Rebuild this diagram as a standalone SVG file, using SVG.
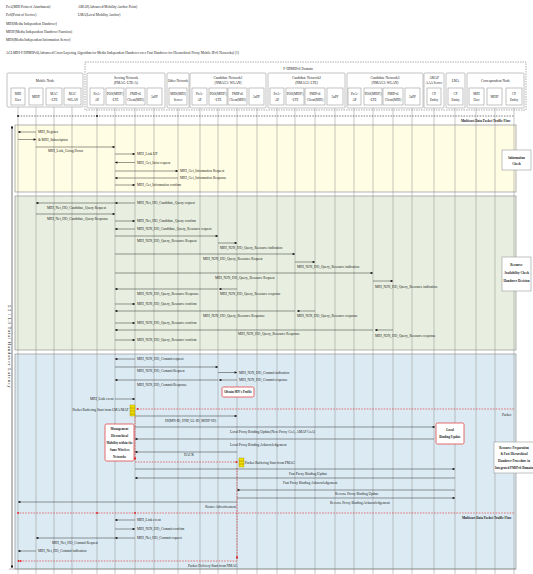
<svg xmlns="http://www.w3.org/2000/svg" width="533" height="574" viewBox="0 0 533 574">
<style>
text{font-family:"Liberation Serif","Times New Roman",serif;font-size:3.5px;fill:#1a1a1a}
.c{text-anchor:middle}
.e{text-anchor:end}
.h{font-size:3.3px}
.b{font-weight:bold;font-size:3.2px}
.bx{fill:#fff;stroke:#9a9a9a;stroke-width:0.6}
.rb{fill:#fff;stroke:#e04848;stroke-width:0.8}
.ll{stroke:#8e8e8e;stroke-width:0.5}
.m{stroke:#333;stroke-width:0.5;fill:none;marker-end:url(#a)}
.rd{stroke:#e02020;stroke-width:0.6;stroke-dasharray:1.6 1.2;fill:none}
.ra{marker-end:url(#r)}
.buf{fill:#f4e000;stroke:#9a8a00;stroke-width:0.4}
</style>
<defs>
<marker id="a" viewBox="0 0 6 6" refX="5.5" refY="3" markerWidth="3" markerHeight="2.6" markerUnits="userSpaceOnUse" orient="auto"><path d="M0,0L6,3L0,6z" fill="#111"/></marker>
<marker id="r" viewBox="0 0 6 6" refX="5.5" refY="3" markerWidth="3" markerHeight="2.6" markerUnits="userSpaceOnUse" orient="auto"><path d="M0,0L6,3L0,6z" fill="#e02020"/></marker>
<marker id="as" viewBox="0 0 6 6" refX="5.5" refY="3" markerWidth="3" markerHeight="2.6" markerUnits="userSpaceOnUse" orient="auto-start-reverse"><path d="M0,0L6,3L0,6z" fill="#111"/></marker>
</defs>
<rect width="533" height="574" fill="#fff"/>

<g id="legend">
<text x="6" y="8.2">PoA(MIH Point of Attachment)</text>
<text x="78" y="8.2">AMAP(Advanced Mobility Anchor Point)</text>
<text x="6" y="16.2">PoS(Point of Service)</text>
<text x="78" y="16.2">LMA(Local Mobility Anchor)</text>
<text x="6" y="24.6">MIH(Media Independent Handover)</text>
<text x="6" y="32.6">MIHF(Media Independent Handover Function)</text>
<text x="6" y="40.6">MIIS(Media Independent Information Server)</text>
<text x="6" y="54">ACLMIH-F/HPMIPv6(Advanced Cross-Layering Algorithm for Media Independent Handover over Fast Handover for Hierarchical Proxy Mobile IPv6 Networks) (1)</text>
</g>

<g id="bands">
<rect x="15" y="125" width="501" height="67" fill="#fffde3" stroke="#a0a0a0" stroke-width="0.8"/>
<rect x="15" y="196" width="501" height="154" fill="#e8efe0" stroke="#a0a0a0" stroke-width="0.8"/>
<rect x="15" y="354" width="501" height="215" fill="#dcebf3" stroke="#a0a0a0" stroke-width="0.8"/>
</g>

<g id="domain">
<rect x="85" y="62" width="441" height="48" fill="none" stroke="#777" stroke-width="0.6" stroke-dasharray="1.5 1"/>
<text class="c" x="298" y="69.5">F-HPMIPv6 Domain</text>
</g>

<g id="lifelines">
<path class="ll" d="M18,105V574M36,105V574M54,105V574M72,105V574M97,105V574M115,105V574M135,105V574M154,105V574M178,105V574M200,105V574M218,105V574M237,105V574M257,105V574M277,105V574M295,105V574M315,105V574M335,105V574M354,105V574M373,105V574M393,105V574M412,105V574M434,105V574M455,105V574M476,105V574M495,105V574M514,105V574"/>
</g>

<g id="mobile-node">
<rect class="bx" x="7" y="73" width="76" height="34" rx="1"/>
<text class="c" x="45" y="81.5">Mobile Node</text>
<rect class="bx" x="11" y="88" width="14" height="17"/><text class="c h" x="18" y="95">MIH</text><text class="c h" x="18" y="100.5">User</text>
<rect class="bx" x="29" y="88" width="14" height="17"/><text class="c h" x="36" y="98">MIHF</text>
<rect class="bx" x="46" y="88" width="16" height="17"/><text class="c h" x="54" y="95">MAC</text><text class="c h" x="54" y="100.5">-LTE</text>
<rect class="bx" x="64" y="88" width="17" height="17"/><text class="c h" x="72.5" y="95">MAC</text><text class="c h" x="72.5" y="100.5">-WLAN</text>
</g>

<g id="serving-network">
<rect class="bx" x="87" y="73" width="78" height="35" rx="1"/>
<text class="c" x="126" y="78.5">Serving Network</text><text class="c" x="126" y="84">(PMAG: LTE-A)</text>
<rect class="bx" x="90" y="88" width="14" height="17"/><text class="c h" x="97" y="95">PoA-</text><text class="c h" x="97" y="100.5">AP</text>
<rect class="bx" x="106" y="88" width="18" height="17"/><text class="c h" x="115" y="95">POS(MIHF)</text><text class="c h" x="115" y="100.5">-LTE</text>
<rect class="bx" x="126" y="88" width="19" height="17"/><text class="c h" x="135.5" y="95">PMIPv6</text><text class="c h" x="135.5" y="100.5">Client(MIH)</text>
<rect class="bx" x="147" y="88" width="15" height="17"/><text class="c h" x="154.5" y="98">3aPP</text>
</g>

<g id="other-network">
<rect class="bx" x="167" y="73" width="22" height="35" rx="1"/>
<text class="c h" x="178" y="81.5">Other Network</text>
<rect class="bx" x="169" y="88" width="18" height="17"/><text class="c h" x="178" y="95">MIIS(MIH)</text><text class="c h" x="178" y="100.5">Server</text>
</g>

<g id="candidate-network1">
<rect class="bx" x="190" y="73" width="76" height="35" rx="1"/>
<text class="c" x="228" y="78.5">Candidate Network1</text><text class="c" x="228" y="84">(NMAG1: WLAN)</text>
<rect class="bx" x="192" y="88" width="15" height="17"/><text class="c h" x="199.5" y="95">PoA-</text><text class="c h" x="199.5" y="100.5">AP</text>
<rect class="bx" x="209" y="88" width="18" height="17"/><text class="c h" x="218" y="95">POS(MIHF)</text><text class="c h" x="218" y="100.5">-LTE</text>
<rect class="bx" x="228" y="88" width="19" height="17"/><text class="c h" x="237.5" y="95">PMIPv6</text><text class="c h" x="237.5" y="100.5">Client(MIH)</text>
<rect class="bx" x="249" y="88" width="15" height="17"/><text class="c h" x="256.5" y="98">3aPP</text>
</g>

<g id="candidate-network2">
<rect class="bx" x="268" y="73" width="77" height="35" rx="1"/>
<text class="c" x="306.5" y="78.5">Candidate Network2</text><text class="c" x="306.5" y="84">(NMAG2: LTE)</text>
<rect class="bx" x="270" y="88" width="14" height="17"/><text class="c h" x="277" y="95">PoA-</text><text class="c h" x="277" y="100.5">AP</text>
<rect class="bx" x="286" y="88" width="18" height="17"/><text class="c h" x="295" y="95">POS(MIHF)</text><text class="c h" x="295" y="100.5">-LTE</text>
<rect class="bx" x="305" y="88" width="20" height="17"/><text class="c h" x="315" y="95">PMIPv6</text><text class="c h" x="315" y="100.5">Client(MIH)</text>
<rect class="bx" x="327" y="88" width="16" height="17"/><text class="c h" x="335" y="98">3aPP</text>
</g>

<g id="candidate-network3">
<rect class="bx" x="347" y="73" width="76" height="35" rx="1"/>
<text class="c" x="385" y="78.5">Candidate Network3</text><text class="c" x="385" y="84">(NMAG3: WLAN)</text>
<rect class="bx" x="348" y="88" width="13" height="17"/><text class="c h" x="354.5" y="95">PoA-</text><text class="c h" x="354.5" y="100.5">AP</text>
<rect class="bx" x="364" y="88" width="18" height="17"/><text class="c h" x="373" y="95">POS(MIHF)</text><text class="c h" x="373" y="100.5">-LTE</text>
<rect class="bx" x="383" y="88" width="20" height="17"/><text class="c h" x="393" y="95">PMIPv6</text><text class="c h" x="393" y="100.5">Client(MIH)</text>
<rect class="bx" x="405" y="88" width="15" height="17"/><text class="c h" x="412.5" y="98">3aPP</text>
</g>

<g id="amap">
<rect class="bx" x="424" y="73" width="20" height="35" rx="1"/>
<text class="c h" x="434" y="78.5">AMAP</text><text class="c h" x="434" y="84">AAA Server</text>
<rect class="bx" x="427" y="88" width="14" height="17"/><text class="c h" x="434" y="95">CP</text><text class="c h" x="434" y="100.5">Entity</text>
</g>

<g id="lma">
<rect class="bx" x="446" y="73" width="19" height="35" rx="1"/>
<text class="c h" x="455.5" y="81.5">LMA</text>
<rect class="bx" x="448" y="88" width="15" height="17"/><text class="c h" x="455.5" y="95">CP</text><text class="c h" x="455.5" y="100.5">Entity</text>
</g>

<g id="correspondent-node">
<rect class="bx" x="467" y="73" width="57" height="35" rx="1"/>
<text class="c" x="495.5" y="81.5">Correspondent Node</text>
<rect class="bx" x="469" y="88" width="15" height="17"/><text class="c h" x="476.5" y="95">MIH</text><text class="c h" x="476.5" y="100.5">User</text>
<rect class="bx" x="487" y="88" width="15" height="17"/><text class="c h" x="494.5" y="98">MIHF</text>
<rect class="bx" x="506" y="88" width="16" height="17"/><text class="c h" x="514" y="95">CP</text><text class="c h" x="514" y="100.5">Entity</text>
</g>

<g id="latency">
<line x1="12" y1="126" x2="12" y2="568" stroke="#222" stroke-width="0.6" marker-start="url(#as)" marker-end="url(#as)"/>
<line x1="9" y1="569" x2="516" y2="569" stroke="#888" stroke-width="0.6"/>
<text class="c" transform="translate(8.3,347) rotate(90)" style="font-size:4.6px;letter-spacing:0.8px">L2 / L3 Total Handover Latency</text>
</g>

<g id="connectors">
<!-- initial multicast flow -->
<line x1="18" y1="116" x2="514" y2="116" stroke="#222" stroke-width="0.6" stroke-dasharray="1.5 1.2"/>
<circle cx="18" cy="116" r="0.9" fill="#111"/><circle cx="97" cy="116" r="0.9" fill="#111"/>
<text class="b" x="461" y="122" style="font-size:3.3px">Multicast Data Packet Traffic Flow</text>

<!-- information check -->
<line class="m" x1="36" y1="132" x2="18" y2="132"/><text x="38" y="133.2">MIH_Register</text>
<line class="m" x1="18" y1="139.5" x2="36" y2="139.5"/><text x="38" y="140.7">&amp; MIH_Subscription</text>
<line class="m" x1="36" y1="147" x2="115" y2="147"/><text x="48" y="152">MIH_Link_Going Down</text>
<line class="m" x1="115" y1="154" x2="135" y2="154"/><text x="137" y="155.2">MIH_Link UP</text>
<line class="m" x1="135" y1="162.5" x2="115" y2="162.5"/><text x="137" y="163.7">MIH_Get_Infor request</text>
<line class="m" x1="115" y1="171" x2="178" y2="171"/><text x="180" y="172.2">MIH_Get_Information Request</text>
<line class="m" x1="178" y1="178" x2="115" y2="178"/><text x="180" y="179.2">MIH_Get_Information Response</text>
<line class="m" x1="115" y1="185" x2="135" y2="185"/><text x="137" y="186.2">MIH_Get_Information confirm</text>

<!-- resource availability check -->
<line class="m" x1="115" y1="203" x2="36" y2="203"/><text x="47" y="208.5">MIH_Net_HO_Candidate_Query Request</text>
<line class="m" x1="135" y1="203" x2="115" y2="203"/><text x="137" y="204.2">MIH_Net_HO_Candidate_Query request</text>
<line class="m" x1="36" y1="214" x2="115" y2="214"/><text x="47" y="219.5">MIH_Net_HO_Candidate_Query Response</text>
<line class="m" x1="115" y1="221" x2="135" y2="221"/><text x="137" y="222.2">MIH_Net_HO_Candidate_Query confirm</text>
<line class="m" x1="135" y1="229" x2="115" y2="229"/><text x="137" y="230.2">MIH_N2N_HO_Candidate_Query_Resource request</text>
<line class="m" x1="115" y1="236" x2="218" y2="236"/><text x="137" y="242">MIH_N2N_HO_Query_Resource Request</text>
<line class="m" x1="218" y1="243" x2="237" y2="243"/><text x="220" y="249">MIH_N2N_HO_Query_Resource indication</text>
<line class="m" x1="115" y1="254" x2="295" y2="254"/><text x="203" y="259.5">MIH_N2N_HO_Query_Resource Request</text>
<line class="m" x1="295" y1="262" x2="315" y2="262"/><text x="297" y="268">MIH_N2N_HO_Query_Resource indication</text>
<line class="m" x1="115" y1="273" x2="373" y2="273"/><text x="215" y="278.5">MIH_N2N_HO_Query_Resource Request</text>
<line class="m" x1="373" y1="281" x2="393" y2="281"/><text x="375" y="288">MIH_N2N_HO_Query_Resource indication</text>
<line class="m" x1="237" y1="289" x2="219" y2="289"/><text x="220" y="294.5">MIH_N2N_HO_Query_Resource response</text>
<line class="m" x1="218" y1="289" x2="115" y2="289"/><text x="137" y="294.5">MIH_N2N_HO_Query_Resource Response</text>
<line class="m" x1="115" y1="304" x2="135" y2="304"/><text x="137" y="305.2">MIH_N2N_HO_Query_Resource confirm</text>
<line class="m" x1="315" y1="311" x2="297" y2="311"/><text x="297" y="316.5">MIH_N2N_HO_Query_Resource response</text>
<line class="m" x1="295" y1="311" x2="115" y2="311"/><text x="203" y="316.5">MIH_N2N_HO_Query_Resource Response</text>
<line class="m" x1="115" y1="323" x2="135" y2="323"/><text x="137" y="324.2">MIH_N2N_HO_Query_Resource confirm</text>
<line class="m" x1="393" y1="330" x2="375" y2="330"/><text x="375" y="337">MIH_N2N_HO_Query_Resource response</text>
<line class="m" x1="373" y1="330" x2="115" y2="330"/><text x="238" y="334.5">MIH_N2N_HO_Query_Resource Response</text>
<line class="m" x1="115" y1="340" x2="135" y2="340"/><text x="137" y="341.2">MIH_N2N_HO_Query_Resource confirm</text>

<!-- handover preparation -->
<line class="m" x1="135" y1="359" x2="115" y2="359"/><text x="137" y="360.2">MIH_N2N_HO_Commit request</text>
<line class="m" x1="115" y1="367" x2="218" y2="367"/><text x="137" y="372">MIH_N2N_HO_Commit Request</text>
<line class="m" x1="218" y1="372.5" x2="237" y2="372.5"/><text x="239" y="373.7">MIH_N2N_HO_Commit indication</text>
<line class="m" x1="237" y1="380" x2="219" y2="380"/><text x="239" y="381.2">MIH_N2N_HO_Commit response</text>
<line class="m" x1="218" y1="380" x2="115" y2="380"/><text x="137" y="385.5">MIH_N2N_HO_Commit Response</text>
<line class="m" x1="115" y1="399" x2="135" y2="399"/><text class="e" x="113.5" y="400.2">MIH_Link event</text>
<line class="rd ra" x1="514" y1="409" x2="136" y2="409"/>
<text class="e" x="128.5" y="410.5">Packet Buffering Start from LMA/MAP</text>
<text x="502" y="415.5">Packet</text>
<line class="rd ra" x1="135" y1="417" x2="135" y2="460"/>
<line class="m" x1="135" y1="416" x2="237" y2="416"/><text x="165" y="421.5">HI(MN-ID, HNP, LL-ID, MIHF-ID)</text>
<line class="m" x1="135" y1="427" x2="435" y2="427"/><text x="230" y="433">Local Proxy Binding Update(New Proxy CoA, AMAP CoA)</text>
<line class="m" x1="434" y1="439" x2="135" y2="439"/><text x="230" y="446">Local Proxy Binding Acknowledgement</text>
<line class="m" x1="237" y1="452" x2="135" y2="452"/><text x="184" y="456">HACK</text>
<line class="rd ra" x1="135" y1="462" x2="238" y2="462"/>
<text x="245" y="463.5">Packet Buffering Start from PMAG</text>
<line class="m" x1="135" y1="469" x2="455" y2="469"/><text x="289" y="474.5">Fast Proxy Binding Update</text>
<line class="m" x1="455" y1="478" x2="135" y2="478"/><text x="283" y="483.5">Fast Proxy Binding Acknowledgement</text>
<line class="m" x1="455" y1="490" x2="237" y2="490"/><text x="335" y="494.5">Reverse Proxy Binding Update</text>
<line class="m" x1="237" y1="498" x2="455" y2="498"/><text x="330" y="503.5">Reverse Proxy Binding Acknowledgement</text>
<line class="m" x1="237" y1="502" x2="18" y2="502"/><text class="e" x="236" y="507.5">Router Advertisement</text>
<line class="rd" x1="514" y1="513" x2="18" y2="513"/>
<circle cx="18" cy="513" r="0.9" fill="#e02020"/><circle cx="97" cy="513" r="0.9" fill="#e02020"/><circle cx="135" cy="513" r="0.9" fill="#e02020"/>
<text class="b" x="462" y="518.8" style="font-size:3.3px">Multicast Data Packet Traffic Flow</text>
<line class="rd ra" x1="237" y1="468" x2="237" y2="559"/>
<line class="m" x1="135" y1="520" x2="115" y2="520"/><text x="137" y="521.2">MIH_Link event</text>
<line class="m" x1="115" y1="529" x2="135" y2="529"/><text x="137" y="530.2">MIH_N2N_HO_Commit confirm</text>
<line class="m" x1="135" y1="538" x2="115" y2="538"/><text x="137" y="539.2">MIH_Net_HO_Commit request</text>
<line class="m" x1="115" y1="538" x2="36" y2="538"/><text x="52" y="543.5">MIH_Net_HO_Commit Request</text>
<line class="m" x1="36" y1="551" x2="18" y2="551"/><text x="38" y="552.2">MIH_Net_HO_Commit indication</text>
<line class="rd ra" x1="237" y1="561" x2="19" y2="561"/>
<circle cx="18.5" cy="561" r="0.9" fill="#e02020"/>
<text x="188" y="566.5">Packet Delivery Start from NMAG</text>
</g>

<g id="buffer-lma">
<rect class="buf" x="130" y="405" width="5" height="11"/>
<path d="M130,408H135M130,411H135M130,414H135" stroke="#6a5a00" stroke-width="0.4"/>
</g>
<g id="buffer-pmag">
<rect class="buf" x="239" y="458" width="5" height="9"/>
<path d="M239,461H244M239,464H244" stroke="#6a5a00" stroke-width="0.4"/>
</g>

<g id="obtain-profile">
<rect class="rb" x="222" y="387" width="32" height="10" rx="1.5"/>
<text class="c b" x="238" y="393.3">Obtain MN's Profile</text>
</g>
<g id="local-binding-update">
<rect class="rb" x="436" y="423" width="28" height="21" rx="1.5"/>
<text class="c b" x="450" y="431">Local</text>
<text class="c b" x="450" y="438">Binding Update</text>
</g>
<g id="management">
<rect class="rb" x="105" y="424" width="29" height="37" rx="1.5"/>
<text class="c b" x="119.5" y="429.8">Management</text>
<text class="c b" x="119.5" y="437">Hierarchical</text>
<text class="c b" x="119.5" y="444">Mobility within the</text>
<text class="c b" x="119.5" y="450.6">Same Wireless</text>
<text class="c b" x="119.5" y="458">Networks</text>
</g>

<g id="information-check">
<rect class="bx" x="502" y="150" width="29" height="20"/>
<text class="c b" x="516.5" y="158.5">Information</text>
<text class="c b" x="516.5" y="164.5">Check</text>
</g>
<g id="resource-check">
<rect class="bx" x="502" y="257" width="29" height="34"/>
<text class="c b" x="516.5" y="266">Resource</text>
<text class="c b" x="516.5" y="274">Availability Check</text>
<text class="c b" x="516.5" y="282">Handover Decision</text>
</g>
<g id="resource-preparation">
<rect class="bx" x="494" y="442" width="42" height="31"/>
<text class="c b" x="514" y="448.5">Resource Preparation</text>
<text class="c b" x="514" y="455">&amp; Fast Hierarchical</text>
<text class="c b" x="514" y="462">Handover Procedure in</text>
<text class="c b" x="514" y="469">Integrated PMIPv6 Domain</text>
</g>
</svg>
